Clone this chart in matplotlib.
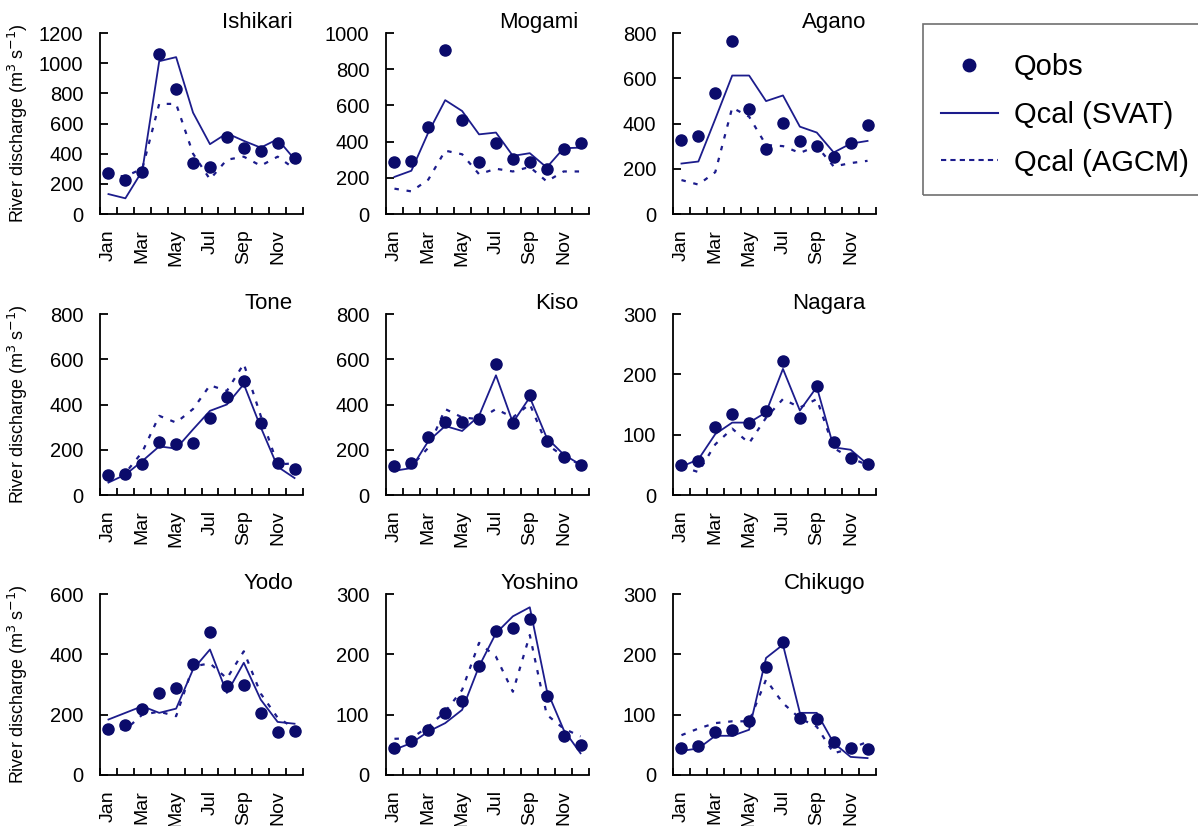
import numpy as np
import matplotlib
matplotlib.use("Agg")
import matplotlib.pyplot as plt
from matplotlib.patches import Rectangle
from matplotlib.lines import Line2D

plt.rcParams['font.family'] = ['Liberation Sans', 'DejaVu Sans']

months = ["Jan", "Feb", "Mar", "Apr", "May", "Jun",
          "Jul", "Aug", "Sep", "Oct", "Nov", "Dec"]
rivers = ["Ishikari", "Mogami", "Agano", "Tone", "Kiso", "Nagara",
          "Yodo", "Yoshino", "Chikugo"]
ymax = [1200, 1000, 800, 800, 800, 300, 600, 300, 300]
ystep = [200, 200, 200, 200, 200, 100, 200, 100, 100]

# Qobs / Qcal(SVAT) / Qcal(AGCM), monthly means
ishikari_obs = [275, 225, 280, 1062, 826, 335, 313, 511, 440, 418, 469, 368]
ishikari_svat = [132, 104, 286, 1013, 1040, 672, 463, 535, 485, 440, 496, 363]
ishikari_agcm = [255, 250, 300, 730, 730, 400, 230, 360, 380, 320, 380, 300]

mogami_obs = [288, 294, 483, 908, 519, 288, 394, 303, 288, 251, 358, 394]
mogami_svat = [205, 239, 450, 629, 569, 440, 450, 321, 336, 257, 363, 367]
mogami_agcm = [140, 125, 190, 350, 330, 220, 250, 235, 260, 180, 235, 235]

agano_obs = [327, 345, 536, 766, 462, 286, 401, 323, 301, 253, 316, 394]
agano_svat = [223, 232, 420, 612, 612, 499, 524, 386, 360, 272, 311, 323]
agano_agcm = [150, 130, 185, 470, 430, 305, 300, 270, 300, 210, 225, 235]

tone_obs = [88, 95, 135, 235, 225, 228, 340, 435, 502, 317, 142, 115]
tone_svat = [55, 90, 150, 215, 205, 290, 372, 400, 490, 300, 125, 75]
tone_agcm = [60, 97, 190, 350, 320, 380, 485, 460, 580, 350, 135, 140]

kiso_obs = [130, 142, 258, 323, 323, 335, 577, 317, 440, 238, 167, 134]
kiso_svat = [107, 119, 238, 305, 283, 350, 529, 320, 432, 253, 179, 134]
kiso_agcm = [112, 127, 209, 380, 343, 335, 380, 343, 402, 224, 171, 134]

nagara_obs = [50, 56, 112, 134, 120, 140, 222, 128, 180, 88, 61, 52]
nagara_svat = [47, 59, 101, 120, 120, 137, 209, 140, 179, 79, 75, 51]
nagara_agcm = [47, 38, 84, 110, 86, 128, 159, 145, 159, 78, 61, 50]

yodo_obs = [151, 165, 219, 272, 289, 369, 475, 294, 300, 206, 143, 146]
yodo_svat = [184, 206, 228, 206, 220, 350, 416, 272, 372, 250, 176, 170]
yodo_agcm = [160, 150, 200, 210, 195, 360, 370, 320, 410, 270, 190, 155]

yoshino_obs = [45, 56, 75, 102, 123, 180, 238, 243, 259, 131, 65, 50]
yoshino_svat = [42, 53, 72, 86, 108, 180, 235, 263, 278, 141, 75, 36]
yoshino_agcm = [60, 61, 80, 105, 141, 219, 196, 138, 232, 100, 77, 64]

chikugo_obs = [45, 48, 72, 75, 89, 179, 220, 94, 93, 55, 45, 43]
chikugo_svat = [40, 44, 65, 65, 75, 194, 216, 103, 103, 53, 30, 28]
chikugo_agcm = [66, 77, 86, 89, 89, 158, 119, 94, 80, 36, 44, 55]

obs_all = [ishikari_obs, mogami_obs, agano_obs, tone_obs, kiso_obs,
           nagara_obs, yodo_obs, yoshino_obs, chikugo_obs]
svat_all = [ishikari_svat, mogami_svat, agano_svat, tone_svat, kiso_svat,
            nagara_svat, yodo_svat, yoshino_svat, chikugo_svat]
agcm_all = [ishikari_agcm, mogami_agcm, agano_agcm, tone_agcm, kiso_agcm,
            nagara_agcm, yodo_agcm, yoshino_agcm, chikugo_agcm]

W, H = 1198, 826
fig = plt.figure(figsize=(W / 100, H / 100), dpi=100)

line_col = '#1c1c8c'
dot_col = '#0b0b6b'
col_left = [100, 386, 673]
row_top = [33, 314, 594]
ax_w, ax_h = 203, 181

x = np.arange(1, 13)
for i, name in enumerate(rivers):
    r, c = divmod(i, 3)
    ax = fig.add_axes([col_left[c] / W, 1 - (row_top[r] + ax_h) / H,
                       ax_w / W, ax_h / H])
    ax.plot(x, agcm_all[i], color=line_col, lw=1.6, ls=(0, (2, 3.5)),
            label='Qcal (AGCM)', zorder=2)
    ax.plot(x, svat_all[i], color=line_col, lw=1.3, label='Qcal (SVAT)', zorder=3)
    ax.plot(x, obs_all[i], 'o', color=dot_col, ms=8, label='Qobs', zorder=4)

    ax.set_xlim(0.5, 12.5)
    ax.set_ylim(0, ymax[i])
    ax.set_yticks(np.arange(0, ymax[i] + 1, ystep[i]))
    # tick marks between months, labels centred on every other month
    ax.set_xticks(np.arange(0.5, 13, 1))
    ax.set_xticklabels([])
    ax.set_xticks(x[::2], minor=True)
    ax.set_xticklabels(months[::2], minor=True, rotation=90, fontsize=14)
    ax.tick_params(axis='x', which='minor', length=0, pad=11)
    ax.tick_params(axis='x', which='major', direction='in', length=5, width=1.3)
    ax.tick_params(axis='y', direction='in', length=6, width=1.3,
                   labelsize=14.5, pad=12)
    for s in ['top', 'right']:
        ax.spines[s].set_visible(False)
    for s in ['left', 'bottom']:
        ax.spines[s].set_linewidth(1.3)
    ax.set_facecolor('none')
    ax.text(0.95, 1.03, name, transform=ax.transAxes, ha='right',
            va='baseline', fontsize=16)
    if c == 0:
        ax.set_ylabel(r'River discharge (m$^3$ s$^{-1}$)', fontsize=13)
        ax.yaxis.set_label_coords(-0.345, 0.5)

# legend box, cut off at the right edge like the original
fig.patches.append(Rectangle((923 / W, 1 - 195 / H), 0.3, 171 / H,
                             transform=fig.transFigure, fill=False,
                             edgecolor='#707070', lw=1.2))
handles = [Line2D([], [], ls='none', marker='o', color=dot_col, ms=9),
           Line2D([], [], color=line_col, lw=1.5),
           Line2D([], [], color=line_col, lw=1.5, ls=(0, (2.5, 2)))]
fig.legend(handles, ['Qobs', 'Qcal (SVAT)', 'Qcal (AGCM)'], frameon=False,
           loc='upper left', bbox_to_anchor=(941 / W, 1 - 53 / H),
           fontsize=21, handlelength=1.95, handletextpad=0.55,
           labelspacing=0.68, borderpad=0, borderaxespad=0)

fig.savefig('out.png', dpi=100)
